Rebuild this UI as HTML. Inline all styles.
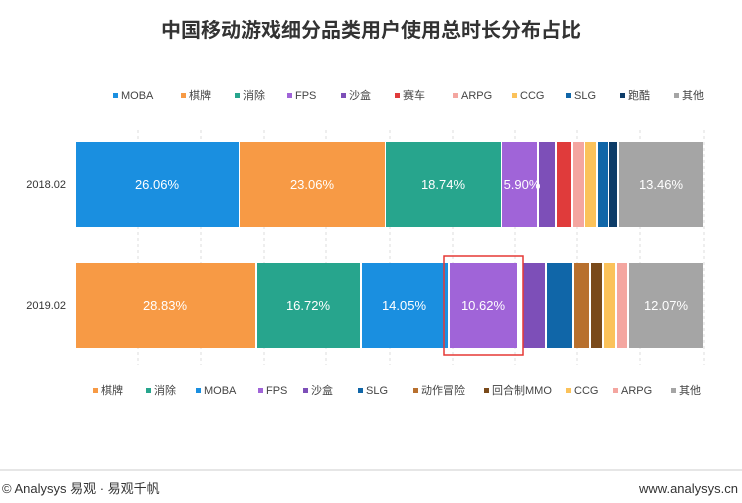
<!DOCTYPE html>
<html><head><meta charset="utf-8"><style>
body{margin:0;background:#fff;}
svg{display:block;font-family:"Liberation Sans","Noto Sans CJK SC",sans-serif;}
</style></head><body>
<svg width="742" height="503" viewBox="0 0 742 503">
<text x="371" y="37" text-anchor="middle" font-size="20" font-weight="bold" fill="#333">中国移动游戏细分品类用户使用总时长分布占比</text>
<g stroke="#ddd" stroke-dasharray="3,3" stroke-width="1">
<line x1="138" y1="130" x2="138" y2="365"/><line x1="201" y1="130" x2="201" y2="365"/><line x1="264" y1="130" x2="264" y2="365"/><line x1="326" y1="130" x2="326" y2="365"/><line x1="390" y1="130" x2="390" y2="365"/><line x1="453" y1="130" x2="453" y2="365"/><line x1="515" y1="130" x2="515" y2="365"/><line x1="577" y1="130" x2="577" y2="365"/><line x1="640" y1="130" x2="640" y2="365"/><line x1="704" y1="130" x2="704" y2="365"/>
</g>
<!-- top bar -->
<g>
<rect x="76" y="142" width="163" height="85" fill="#1a8fe0"/>
<rect x="240" y="142" width="145" height="85" fill="#f79a45"/>
<rect x="386" y="142" width="115" height="85" fill="#27a58d"/>
<rect x="502" y="142" width="35" height="85" fill="#a064d8"/>
<rect x="539" y="142" width="16" height="85" fill="#7d4fb8"/>
<rect x="557" y="142" width="14" height="85" fill="#e03b3b"/>
<rect x="573" y="142" width="11" height="85" fill="#f4a6a0"/>
<rect x="585" y="142" width="11" height="85" fill="#fbc25a"/>
<rect x="598" y="142" width="10" height="85" fill="#1066a8"/>
<rect x="609" y="142" width="8" height="85" fill="#0d3c68"/>
<rect x="619" y="142" width="84" height="85" fill="#a5a5a5"/>
</g>
<g fill="#fff" font-size="13" text-anchor="middle">
<text x="157" y="189">26.06%</text><text x="312" y="189">23.06%</text><text x="443" y="189">18.74%</text><text x="522" y="189">5.90%</text><text x="661" y="189">13.46%</text>
</g>
<!-- bottom bar -->
<g>
<rect x="76" y="263" width="179" height="85" fill="#f79a45"/>
<rect x="257" y="263" width="103" height="85" fill="#27a58d"/>
<rect x="362" y="263" width="86" height="85" fill="#1a8fe0"/>
<rect x="450" y="263" width="67" height="85" fill="#a064d8"/>
<rect x="523" y="263" width="22" height="85" fill="#7d4fb8"/>
<rect x="547" y="263" width="25" height="85" fill="#1066a8"/>
<rect x="574" y="263" width="15" height="85" fill="#b8702e"/>
<rect x="591" y="263" width="11" height="85" fill="#7a4a1a"/>
<rect x="604" y="263" width="11" height="85" fill="#fbc25a"/>
<rect x="617" y="263" width="10" height="85" fill="#f4a6a0"/>
<rect x="629" y="263" width="74" height="85" fill="#a5a5a5"/>
</g>
<g fill="#fff" font-size="13" text-anchor="middle">
<text x="165" y="310">28.83%</text><text x="308" y="310">16.72%</text><text x="404" y="310">14.05%</text><text x="483" y="310">10.62%</text><text x="666" y="310">12.07%</text>
</g>
<rect x="444" y="256" width="79" height="99" fill="none" stroke="#e53935" stroke-width="1.5"/>
<g font-size="11" fill="#333" text-anchor="end">
<text x="66" y="188">2018.02</text><text x="66" y="309">2019.02</text>
</g>
<!-- legends -->
<g font-size="11" fill="#444">
<rect x="113" y="93" width="5" height="5" fill="#1a8fe0"/><text x="121" y="99">MOBA</text>
<rect x="181" y="93" width="5" height="5" fill="#f79a45"/><text x="189" y="99">棋牌</text>
<rect x="235" y="93" width="5" height="5" fill="#27a58d"/><text x="243" y="99">消除</text>
<rect x="287" y="93" width="5" height="5" fill="#a064d8"/><text x="295" y="99">FPS</text>
<rect x="341" y="93" width="5" height="5" fill="#7d4fb8"/><text x="349" y="99">沙盒</text>
<rect x="395" y="93" width="5" height="5" fill="#e03b3b"/><text x="403" y="99">赛车</text>
<rect x="453" y="93" width="5" height="5" fill="#f4a6a0"/><text x="461" y="99">ARPG</text>
<rect x="512" y="93" width="5" height="5" fill="#fbc25a"/><text x="520" y="99">CCG</text>
<rect x="566" y="93" width="5" height="5" fill="#1066a8"/><text x="574" y="99">SLG</text>
<rect x="620" y="93" width="5" height="5" fill="#0d3c68"/><text x="628" y="99">跑酷</text>
<rect x="674" y="93" width="5" height="5" fill="#a5a5a5"/><text x="682" y="99">其他</text>

<rect x="93" y="388" width="5" height="5" fill="#f79a45"/><text x="101" y="394">棋牌</text>
<rect x="146" y="388" width="5" height="5" fill="#27a58d"/><text x="154" y="394">消除</text>
<rect x="196" y="388" width="5" height="5" fill="#1a8fe0"/><text x="204" y="394">MOBA</text>
<rect x="258" y="388" width="5" height="5" fill="#a064d8"/><text x="266" y="394">FPS</text>
<rect x="303" y="388" width="5" height="5" fill="#7d4fb8"/><text x="311" y="394">沙盒</text>
<rect x="358" y="388" width="5" height="5" fill="#1066a8"/><text x="366" y="394">SLG</text>
<rect x="413" y="388" width="5" height="5" fill="#b8702e"/><text x="421" y="394">动作冒险</text>
<rect x="484" y="388" width="5" height="5" fill="#7a4a1a"/><text x="492" y="394">回合制MMO</text>
<rect x="566" y="388" width="5" height="5" fill="#fbc25a"/><text x="574" y="394">CCG</text>
<rect x="613" y="388" width="5" height="5" fill="#f4a6a0"/><text x="621" y="394">ARPG</text>
<rect x="671" y="388" width="5" height="5" fill="#a5a5a5"/><text x="679" y="394">其他</text>
</g>
<line x1="0" y1="470" x2="742" y2="470" stroke="#ccc" stroke-width="1"/>
<text x="2" y="493" font-size="13" fill="#333">© Analysys 易观 · 易观千帆</text>
<text x="738" y="493" font-size="13" fill="#333" text-anchor="end">www.analysys.cn</text>
</svg>
</body></html>
